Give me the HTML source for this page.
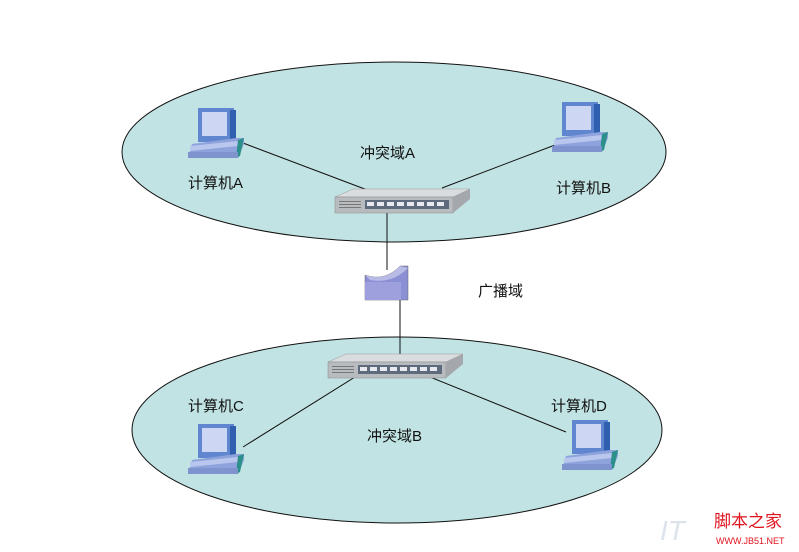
<!DOCTYPE html>
<html><head><meta charset="utf-8"><style>
body{margin:0;background:#fff}
svg{display:block}
text{font-family:"Liberation Sans","Noto Sans CJK SC",sans-serif;font-size:15px;fill:#111}
</style></head><body>
<svg width="799" height="552" viewBox="0 0 799 552">
<defs>
<g id="pc">
 <rect x="10" y="0" width="36" height="34" fill="#5f86cf"/>
 <rect x="42" y="2" width="6" height="32" fill="#2f5fae"/>
 <rect x="14" y="4" width="25" height="24" fill="#cdd6f3"/>
 <polygon points="4,36 48,30 56,30 56,36 50,50 0,50" fill="#8ea3dc"/>
 <polygon points="2,38 50,33 50,38 2,43" fill="#b9c6ee"/>
 <polygon points="50,32 56,30 52,48 48,50" fill="#2b8f8a"/>
 <rect x="0" y="44" width="50" height="6" fill="#7f93cf"/>
</g>
<g id="sw">
 <polygon points="0,14 18,0 135,0 135,6 118,24 0,24" fill="#c9cccf"/>
 <polygon points="18,0 135,0 118,8 0,8" fill="#dadddf" stroke="#999" stroke-width="0.5"/>
 <rect x="0" y="8" width="118" height="16" fill="#b9bcbf" stroke="#888" stroke-width="0.5"/>
 <polygon points="118,8 135,0 135,10 118,24" fill="#a4a7ab"/>
 <rect x="4" y="12" width="22" height="1" fill="#777"/><rect x="4" y="15" width="22" height="1" fill="#777"/><rect x="4" y="18" width="22" height="1" fill="#777"/>
 <rect x="30" y="11" width="84" height="9" fill="#5d6b7d"/>
 <g fill="#e8eaf0"><rect x="32" y="13" width="7" height="4"/><rect x="42" y="13" width="7" height="4"/><rect x="52" y="13" width="7" height="4"/><rect x="62" y="13" width="7" height="4"/><rect x="72" y="13" width="7" height="4"/><rect x="82" y="13" width="7" height="4"/><rect x="92" y="13" width="7" height="4"/><rect x="102" y="13" width="7" height="4"/></g>
</g>
</defs>
<ellipse cx="394" cy="152" rx="272" ry="90" fill="#c2e3e3" stroke="#111" stroke-width="1"/>
<ellipse cx="397" cy="430" rx="265" ry="93" fill="#c2e3e3" stroke="#111" stroke-width="1"/>
<g stroke="#111" stroke-width="1" fill="none">
 <line x1="243" y1="143" x2="370" y2="191"/>
 <line x1="555" y1="145" x2="442" y2="188"/>
 <line x1="387" y1="212" x2="387" y2="270"/>
 <line x1="400" y1="300" x2="400" y2="354"/>
 <line x1="355" y1="377" x2="243" y2="447"/>
 <line x1="430" y1="377" x2="566" y2="432"/>
</g>
<use href="#sw" x="335" y="189"/>
<use href="#sw" x="328" y="354"/>
<g>
 <path d="M365,275 Q385,282 400,266 L408,266 L408,300 L365,300 Z" fill="#8b8fd3" stroke="#666" stroke-width="0.5"/>
 <path d="M365,275 Q385,282 400,266 L408,268 Q392,284 370,280 Z" fill="#b9bbe6"/>
 <rect x="365" y="282" width="36" height="18" fill="#9da0dc"/>
</g>
<use href="#pc" x="188" y="108"/>
<use href="#pc" x="552" y="102"/>
<use href="#pc" x="188" y="424"/>
<use href="#pc" x="562" y="420"/>
<text x="360" y="158">冲突域A</text>
<text x="188" y="188">计算机A</text>
<text x="556" y="193">计算机B</text>
<text x="478" y="296">广播域</text>
<text x="188" y="411">计算机C</text>
<text x="551" y="411">计算机D</text>
<text x="367" y="441">冲突域B</text>
<text x="714" y="527" style="font-size:17px;fill:#e0141e">脚本之家</text>
<text x="716" y="544" style="font-size:9px;fill:#e0141e">WWW.JB51.NET</text>
<text x="660" y="540" style="font-size:28px;font-style:italic;fill:#dde3ea">IT</text>
</svg>
</body></html>
